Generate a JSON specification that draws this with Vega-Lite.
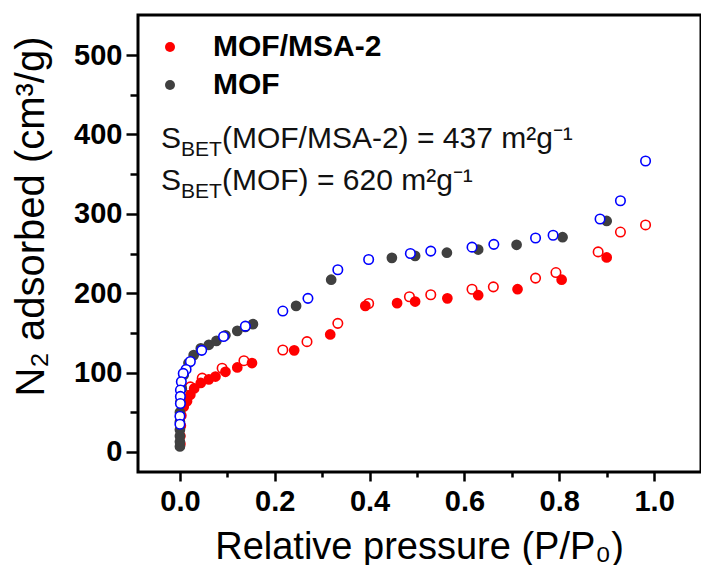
{
  "$schema": "https://vega.github.io/schema/vega-lite/v6.json",
  "width": 563,
  "height": 457,
  "autosize": {"type": "none"},
  "padding": {"left": 138, "top": 15, "right": 0, "bottom": 93},
  "background": "white",
  "config": {
    "view": {"stroke": "black", "strokeWidth": 3},
    "font": "Liberation Sans",
    "axis": {
      "grid": false,
      "domain": false,
      "tickColor": "black",
      "tickWidth": 2.5,
      "labelFont": "Liberation Sans",
      "labelFontWeight": "bold",
      "labelFontSize": 29,
      "labelColor": "black",
      "titleFont": "Liberation Sans",
      "titleFontWeight": "normal",
      "titleFontSize": 38,
      "titleColor": "black"
    }
  },
  "datasets": {
    "iso": [
      {"sample": "MOF/MSA-2", "branch": "des", "x": 0.982, "y": 286},
      {"sample": "MOF/MSA-2", "branch": "des", "x": 0.929, "y": 277},
      {"sample": "MOF/MSA-2", "branch": "des", "x": 0.882, "y": 252},
      {"sample": "MOF/MSA-2", "branch": "des", "x": 0.793, "y": 226},
      {"sample": "MOF/MSA-2", "branch": "des", "x": 0.750, "y": 219},
      {"sample": "MOF/MSA-2", "branch": "des", "x": 0.661, "y": 208},
      {"sample": "MOF/MSA-2", "branch": "des", "x": 0.616, "y": 205},
      {"sample": "MOF/MSA-2", "branch": "des", "x": 0.529, "y": 198},
      {"sample": "MOF/MSA-2", "branch": "des", "x": 0.484, "y": 195.5},
      {"sample": "MOF/MSA-2", "branch": "des", "x": 0.398, "y": 187},
      {"sample": "MOF/MSA-2", "branch": "des", "x": 0.333, "y": 162},
      {"sample": "MOF/MSA-2", "branch": "des", "x": 0.268, "y": 139},
      {"sample": "MOF/MSA-2", "branch": "des", "x": 0.217, "y": 128.5},
      {"sample": "MOF/MSA-2", "branch": "des", "x": 0.135, "y": 115},
      {"sample": "MOF/MSA-2", "branch": "des", "x": 0.089, "y": 105.5},
      {"sample": "MOF/MSA-2", "branch": "des", "x": 0.047, "y": 93},
      {"sample": "MOF/MSA-2", "branch": "des", "x": 0.022, "y": 82},
      {"sample": "MOF/MSA-2", "branch": "ads", "x": 0.001, "y": 10},
      {"sample": "MOF/MSA-2", "branch": "ads", "x": 0.001, "y": 20},
      {"sample": "MOF/MSA-2", "branch": "ads", "x": 0.002, "y": 33},
      {"sample": "MOF/MSA-2", "branch": "ads", "x": 0.003, "y": 46},
      {"sample": "MOF/MSA-2", "branch": "ads", "x": 0.008, "y": 57},
      {"sample": "MOF/MSA-2", "branch": "ads", "x": 0.015, "y": 64},
      {"sample": "MOF/MSA-2", "branch": "ads", "x": 0.022, "y": 72},
      {"sample": "MOF/MSA-2", "branch": "ads", "x": 0.030, "y": 80},
      {"sample": "MOF/MSA-2", "branch": "ads", "x": 0.044, "y": 87},
      {"sample": "MOF/MSA-2", "branch": "ads", "x": 0.061, "y": 91.5},
      {"sample": "MOF/MSA-2", "branch": "ads", "x": 0.075, "y": 95},
      {"sample": "MOF/MSA-2", "branch": "ads", "x": 0.096, "y": 101},
      {"sample": "MOF/MSA-2", "branch": "ads", "x": 0.121, "y": 106.5},
      {"sample": "MOF/MSA-2", "branch": "ads", "x": 0.152, "y": 112},
      {"sample": "MOF/MSA-2", "branch": "ads", "x": 0.241, "y": 128},
      {"sample": "MOF/MSA-2", "branch": "ads", "x": 0.317, "y": 148},
      {"sample": "MOF/MSA-2", "branch": "ads", "x": 0.391, "y": 184},
      {"sample": "MOF/MSA-2", "branch": "ads", "x": 0.458, "y": 187.5},
      {"sample": "MOF/MSA-2", "branch": "ads", "x": 0.496, "y": 189.5},
      {"sample": "MOF/MSA-2", "branch": "ads", "x": 0.564, "y": 193.5},
      {"sample": "MOF/MSA-2", "branch": "ads", "x": 0.629, "y": 197.5},
      {"sample": "MOF/MSA-2", "branch": "ads", "x": 0.712, "y": 205},
      {"sample": "MOF/MSA-2", "branch": "ads", "x": 0.805, "y": 217},
      {"sample": "MOF/MSA-2", "branch": "ads", "x": 0.900, "y": 245},
      {"sample": "MOF", "branch": "ads", "x": 0.000, "y": 7},
      {"sample": "MOF", "branch": "ads", "x": 0.000, "y": 13},
      {"sample": "MOF", "branch": "ads", "x": 0.000, "y": 20},
      {"sample": "MOF", "branch": "ads", "x": 0.000, "y": 28},
      {"sample": "MOF", "branch": "ads", "x": 0.000, "y": 38},
      {"sample": "MOF", "branch": "ads", "x": 0.000, "y": 50},
      {"sample": "MOF", "branch": "ads", "x": 0.001, "y": 63},
      {"sample": "MOF", "branch": "ads", "x": 0.004, "y": 80},
      {"sample": "MOF", "branch": "ads", "x": 0.008, "y": 97},
      {"sample": "MOF", "branch": "ads", "x": 0.018, "y": 112},
      {"sample": "MOF", "branch": "ads", "x": 0.029, "y": 122},
      {"sample": "MOF", "branch": "ads", "x": 0.044, "y": 130.5},
      {"sample": "MOF", "branch": "ads", "x": 0.061, "y": 135},
      {"sample": "MOF", "branch": "ads", "x": 0.077, "y": 140},
      {"sample": "MOF", "branch": "ads", "x": 0.096, "y": 147},
      {"sample": "MOF", "branch": "ads", "x": 0.121, "y": 152.5},
      {"sample": "MOF", "branch": "ads", "x": 0.138, "y": 157.5},
      {"sample": "MOF", "branch": "ads", "x": 0.154, "y": 161},
      {"sample": "MOF", "branch": "ads", "x": 0.245, "y": 184},
      {"sample": "MOF", "branch": "ads", "x": 0.319, "y": 217},
      {"sample": "MOF", "branch": "ads", "x": 0.447, "y": 244.5},
      {"sample": "MOF", "branch": "ads", "x": 0.496, "y": 247},
      {"sample": "MOF", "branch": "ads", "x": 0.563, "y": 251},
      {"sample": "MOF", "branch": "ads", "x": 0.629, "y": 255},
      {"sample": "MOF", "branch": "ads", "x": 0.710, "y": 261},
      {"sample": "MOF", "branch": "ads", "x": 0.807, "y": 270.5},
      {"sample": "MOF", "branch": "ads", "x": 0.900, "y": 291},
      {"sample": "MOF", "branch": "des", "x": 0.982, "y": 366.5},
      {"sample": "MOF", "branch": "des", "x": 0.929, "y": 316.5},
      {"sample": "MOF", "branch": "des", "x": 0.886, "y": 293.5},
      {"sample": "MOF", "branch": "des", "x": 0.787, "y": 273},
      {"sample": "MOF", "branch": "des", "x": 0.750, "y": 269.5},
      {"sample": "MOF", "branch": "des", "x": 0.662, "y": 261.5},
      {"sample": "MOF", "branch": "des", "x": 0.616, "y": 258},
      {"sample": "MOF", "branch": "des", "x": 0.529, "y": 253},
      {"sample": "MOF", "branch": "des", "x": 0.486, "y": 250},
      {"sample": "MOF", "branch": "des", "x": 0.398, "y": 242.5},
      {"sample": "MOF", "branch": "des", "x": 0.333, "y": 229.5},
      {"sample": "MOF", "branch": "des", "x": 0.270, "y": 193.5},
      {"sample": "MOF", "branch": "des", "x": 0.217, "y": 177.5},
      {"sample": "MOF", "branch": "des", "x": 0.138, "y": 158.5},
      {"sample": "MOF", "branch": "des", "x": 0.092, "y": 145.5},
      {"sample": "MOF", "branch": "des", "x": 0.046, "y": 128},
      {"sample": "MOF", "branch": "des", "x": 0.022, "y": 114},
      {"sample": "MOF", "branch": "des", "x": 0.013, "y": 104},
      {"sample": "MOF", "branch": "des", "x": 0.007, "y": 99},
      {"sample": "MOF", "branch": "des", "x": 0.003, "y": 88.5},
      {"sample": "MOF", "branch": "des", "x": 0.001, "y": 78},
      {"sample": "MOF", "branch": "des", "x": 0.001, "y": 70},
      {"sample": "MOF", "branch": "des", "x": 0.001, "y": 61},
      {"sample": "MOF", "branch": "des", "x": 0.000, "y": 45},
      {"sample": "MOF", "branch": "des", "x": 0.000, "y": 35}
    ]
  },
  "resolve": {"axis": {"x": "independent", "y": "independent"}},
  "layer": [
    {
      "data": {"name": "iso"},
      "transform": [{"filter": "datum.sample === 'MOF/MSA-2' && datum.branch === 'des'"}],
      "mark": {"type": "point", "shape": "circle", "size": 90, "fill": "white", "stroke": "#ff0000", "strokeWidth": 1.6, "opacity": 1},
      "encoding": {
        "x": {"field": "x", "type": "quantitative", "scale": {"domain": [-0.0884, 1.0989], "nice": false, "zero": false},
          "axis": {"orient": "bottom", "values": [0, 0.2, 0.4, 0.6, 0.8, 1.0], "format": ".1f", "tickSize": 9, "labelPadding": 6,
            "title": "Relative pressure (P/P₀)", "titleX": 281, "titleY": 86, "titleBaseline": "alphabetic", "titleAlign": "center"}},
        "y": {"field": "y", "type": "quantitative", "scale": {"domain": [-25.2, 550.4], "nice": false, "zero": false},
          "axis": {"orient": "left", "values": [0, 100, 200, 300, 400, 500], "tickSize": 12, "labelPadding": 4,
            "title": "N₂ adsorbed (cm³/g)", "titleFontSize": 40, "titleX": -95, "titleY": 201, "titleAngle": 270, "titleBaseline": "alphabetic", "titleAlign": "center"}}
      }
    },
    {
      "data": {"name": "iso"},
      "transform": [{"filter": "datum.branch === 'ads'"}],
      "mark": {"type": "point", "shape": "circle", "size": 115, "filled": true, "opacity": 1, "strokeWidth": 0},
      "encoding": {
        "x": {"field": "x", "type": "quantitative",
          "axis": {"orient": "bottom", "values": [0.1, 0.3, 0.5, 0.7, 0.9], "labels": false, "tickSize": 5, "title": null}},
        "y": {"field": "y", "type": "quantitative",
          "axis": {"orient": "left", "values": [50, 150, 250, 350, 450], "labels": false, "tickSize": 8, "title": null}},
        "color": {"field": "sample", "type": "nominal",
          "scale": {"domain": ["MOF/MSA-2", "MOF"], "range": ["#ff0000", "#404040"]},
          "legend": {"orient": "none", "legendX": 17, "legendY": 17, "title": null, "padding": 0,
            "symbolType": "circle", "symbolSize": 100, "symbolStrokeWidth": 0, "labelOffset": 28, "labelLimit": 400,
            "labelFont": "Liberation Sans", "labelFontWeight": "bold", "labelFontSize": 30, "labelColor": "black", "rowPadding": 8}}
      }
    },
    {
      "data": {"name": "iso"},
      "transform": [{"filter": "datum.sample === 'MOF' && datum.branch === 'des'"}],
      "mark": {"type": "point", "shape": "circle", "size": 90, "fill": "white", "stroke": "#0000ff", "strokeWidth": 1.6, "opacity": 1},
      "encoding": {
        "x": {"field": "x", "type": "quantitative", "axis": null},
        "y": {"field": "y", "type": "quantitative", "axis": null}
      }
    },
    {
      "data": {"values": [{"x": -0.04, "y": 383, "t": "S"}, {"x": -0.04, "y": 330, "t": "S"}]},
      "mark": {"type": "text", "align": "left", "baseline": "alphabetic", "fontSize": 30, "font": "Liberation Sans", "color": "#111111"},
      "encoding": {
        "x": {"field": "x", "type": "quantitative", "axis": null},
        "y": {"field": "y", "type": "quantitative", "axis": null},
        "text": {"field": "t"}
      }
    },
    {
      "data": {"values": [{"x": -0.04, "y": 383, "t": "BET"}, {"x": -0.04, "y": 330, "t": "BET"}]},
      "mark": {"type": "text", "align": "left", "baseline": "alphabetic", "fontSize": 21, "dx": 20, "dy": 8, "font": "Liberation Sans", "color": "#111111"},
      "encoding": {
        "x": {"field": "x", "type": "quantitative", "axis": null},
        "y": {"field": "y", "type": "quantitative", "axis": null},
        "text": {"field": "t"}
      }
    },
    {
      "data": {"values": [{"x": -0.04, "y": 383, "t": "(MOF/MSA-2) = 437 m²g⁻¹"}, {"x": -0.04, "y": 330, "t": "(MOF) = 620 m²g⁻¹"}]},
      "mark": {"type": "text", "align": "left", "baseline": "alphabetic", "fontSize": 30, "dx": 61, "font": "Liberation Sans", "color": "#111111"},
      "encoding": {
        "x": {"field": "x", "type": "quantitative", "axis": null},
        "y": {"field": "y", "type": "quantitative", "axis": null},
        "text": {"field": "t"}
      }
    }
  ]
}
